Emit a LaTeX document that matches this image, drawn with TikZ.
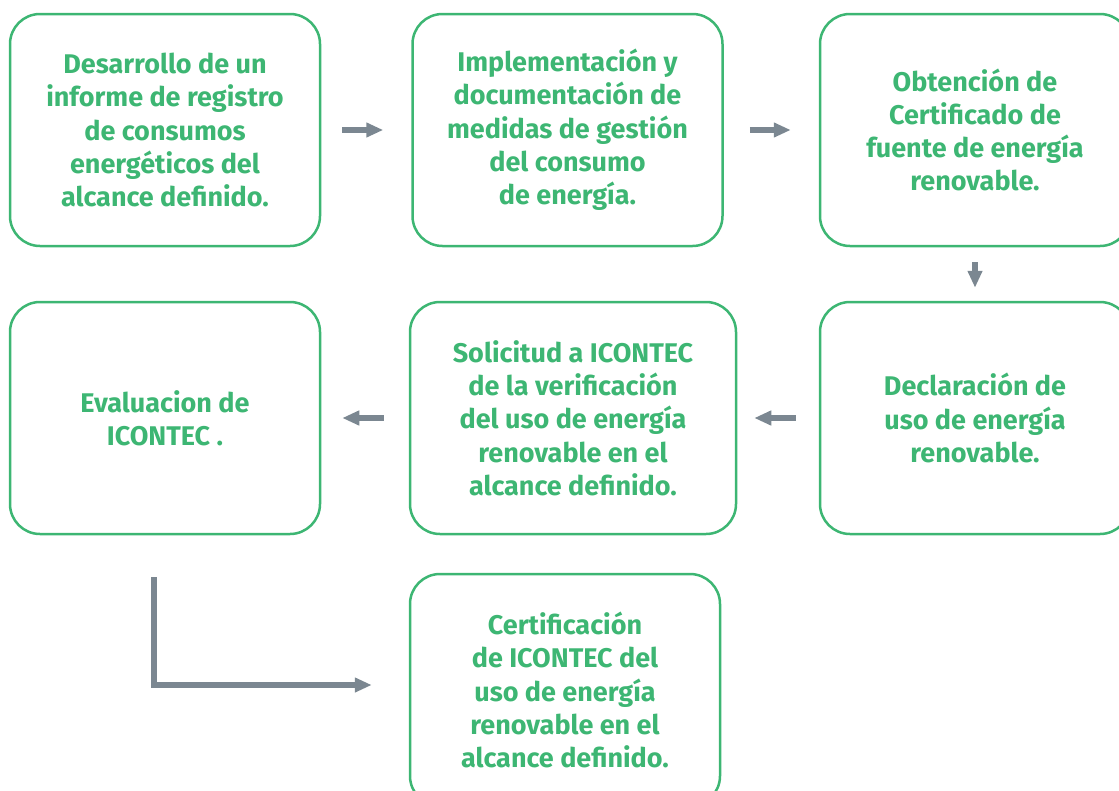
\documentclass[tikz,border=0pt]{standalone}
\usepackage{fontspec}
\setmainfont{Fira Sans}
\usetikzlibrary{arrows.meta}
\definecolor{boxgreen}{HTML}{3DB673}
\definecolor{arrowgray}{HTML}{7B8791}
\begin{document}
\begin{tikzpicture}[x = 1pt, y = -1pt,
	stepbox/.style = {draw = boxgreen, line width = 2.5pt, rounded corners = 30pt,
		minimum width = 310pt, minimum height = 232pt, text = boxgreen, align = center,
		font = \fontsize{27}{33.3}\selectfont\bfseries},
	flow/.style = {draw = arrowgray, line width = 5.5pt,
		-{Triangle[length = 17pt, width = 14pt]}}]
	\clip (0, 0) rectangle (1119, 790);

	\node [stepbox] (desarrollo) at (165, 130) {Desarrollo de un\\informe de registro\\de consumos\\energéticos del\\alcance definido.};
	\node [stepbox] (implementacion) at (567.5, 130) {Implementación y\\documentación de\\medidas de gestión\\del consumo\\de energía.};
	\node [stepbox] (obtencion) at (975, 130) {Obtención de\\Certificado de\\fuente de energía\\renovable.};
	\node [stepbox, minimum width = 326pt] (solicitud) at (573, 418) {Solicitud a ICONTEC\\de la verificación\\del uso de energía\\renovable en el\\alcance definido.};
	\node [stepbox] (declaracion) at (975, 418) {Declaración de\\uso de energía\\renovable.};
	\node [stepbox] (evaluacion) at (165, 418) {Evaluacion de\\ICONTEC .};
	\node [stepbox] (certificacion) at (565, 690) {Certificación\\de ICONTEC del\\uso de energía\\renovable en el\\alcance definido.};

	\draw [flow, shorten <= 21pt, shorten >= 28pt] (desarrollo) -- (implementacion);
	\draw [flow, shorten <= 26pt, shorten >= 28pt] (implementacion) -- (obtencion);
	\draw [flow, shorten <= 15pt, shorten >= 13pt] (obtencion) -- (declaracion);
	\draw [flow, shorten <= 23pt, shorten >= 17pt] (declaracion) -- (solicitud);
	\draw [flow, shorten <= 25pt, shorten >= 21pt] (solicitud) -- (evaluacion);
	\draw [flow] ([shift = {(-11, 42)}] evaluacion.south) |- ([shift = {(-37, -5)}] certificacion.west);
\end{tikzpicture}
\end{document}
